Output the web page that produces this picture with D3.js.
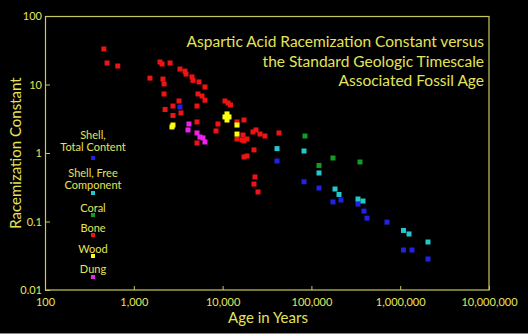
<!DOCTYPE html>
<html><head><meta charset="utf-8">
<script src="https://cdn.jsdelivr.net/npm/d3@7"></script>
<style>html,body{margin:0;padding:0;background:#000;}svg{display:block;}</style>
</head><body>
<script>
// Data: [age in years, racemization constant]
const bone = [[460,33],[500,20.6],[660,18.6],[1520,12.4],[1970,21.3],[2080,19.9],[2560,20.6],[3310,16.8],[3770,15.7],[3870,14.2],[4520,12.9],[4640,11.5],[5420,10.9],[6330,9.2],[2130,12.0],[2190,10.2],[2190,7.27],[5280,7.27],[5860,6.79],[6330,5.9],[3230,5.74],[5150,4.85],[2760,4.85],[2250,4.32],[3400,3.84],[2760,3.53],[5150,2.84],[8870,2.65],[8430,2.10],[5150,1.40],[10640,5.74],[11500,5.37],[12280,5.02],[14520,2.84],[17410,3.03],[14520,1.60],[16970,1.83],[17410,1.50],[18830,1.60],[16530,1.55],[21980,2.03],[23760,2.17],[26380,1.89],[30000,1.77],[43170,1.96],[22560,1.11],[17410,0.875],[18830,0.904],[23150,0.447],[22560,0.352],[25040,0.270]];
const wood = [[2690,2.40],[2760,2.56],[10640,3.36],[11800,3.36],[11210,3.72],[11210,3.03],[14520,2.56],[14520,1.89]];
const dung = [[4180,2.65],[4080,2.17],[5150,1.96],[5560,1.71],[6010,1.66],[6330,1.45]];
const coral = [[84700,1.77],[121800,0.658],[175000,0.845],[352500,0.739]];
const shellFree = [[41000,1.16],[82550,1.07],[121800,0.511],[184500,0.298],[204600,0.248],[334700,0.213],[381000,0.199],[1089000,0.074],[1256000,0.0658],[2055000,0.0502]];
const shellTotal = [[3310,4.69],[41000,0.764],[82550,0.38],[121800,0.308],[175000,0.193],[215400,0.206],[334700,0.180],[391000,0.142],[422800,0.112],[710000,0.098],[1089000,0.0384],[1358000,0.0384],[2055000,0.0284]];
const xTicks = [100,1000,10000,100000,1000000,10000000];
const yTicks = [0.01,0.1,1,10,100];
const legendLabels = [["Shell,","Total Content"],["Shell, Free","Component"],["Coral"],["Bone"],["Wood"],["Dung"]];
const titleLines = ["Aspartic Acid Racemization Constant versus","the Standard Geologic Timescale","Associated Fossil Age"];

const W=528,H=334;
const txt="#e4e45a", axc="#c8c860";
const font="Lato, 'Open Sans', sans-serif";
const svg=d3.select("body").append("svg").attr("width",W).attr("height",H);
svg.append("rect").attr("width",W).attr("height",H).attr("fill","#000");
svg.append("line").attr("x1",0).attr("x2",W).attr("y1",333.5).attr("y2",333.5).attr("stroke","#888");

const x=d3.scaleLog().domain([100,1e7]).range([45,489]);
const y=d3.scaleLog().domain([0.01,100]).range([290,16]);

const xa=svg.append("g").attr("transform","translate(0,290)")
 .call(d3.axisBottom(x).tickValues(xTicks).tickFormat(d3.format(",")).tickSize(-4).tickPadding(8));
const ya=svg.append("g").attr("transform","translate(45,0)")
 .call(d3.axisLeft(y).tickValues(yTicks).tickFormat(d=>String(d)).tickSize(-5).tickPadding(3));
[xa,ya].forEach(g=>{g.select(".domain").remove();g.selectAll("line").attr("stroke",axc);
 g.selectAll("text").attr("fill",txt).style("font-family",font).style("font-size","11px");});
svg.append("rect").attr("x",45.5).attr("y",16.5).attr("width",443.5).attr("height",273.5)
 .attr("fill","none").attr("stroke",axc).attr("stroke-width",1.2);

const series=[
 {d:shellTotal,c:"#2222e6"},{d:shellFree,c:"#22c8cc"},{d:coral,c:"#159a25"},
 {d:bone,c:"#ee1414"},{d:dung,c:"#ee22ee"},{d:wood,c:"#ffff10"}];
const s=5;
series.forEach(se=>{
 svg.append("g").selectAll("rect").data(se.d).join("rect")
  .attr("x",d=>x(d[0])-s/2).attr("y",d=>y(d[1])-s/2).attr("width",s).attr("height",s).attr("fill",se.c);
});

// legend
const legOrder=[{c:"#2222e6",ty:[135,147],my:158},{c:"#22c8cc",ty:[173,185],my:193},{c:"#159a25",ty:[208],my:215},
 {c:"#ee1414",ty:[228],my:235},{c:"#ffff10",ty:[249],my:256},{c:"#ee22ee",ty:[269],my:277}];
legOrder.forEach((l,i)=>{
 legendLabels[i].forEach((t,j)=>{
  svg.append("text").attr("x",93).attr("y",l.ty[j]+4).attr("text-anchor","middle")
   .attr("fill",txt).style("font-family",font).style("font-size","11px").text(t);
 });
 svg.append("rect").attr("x",91).attr("y",l.my-2).attr("width",4).attr("height",4).attr("fill",l.c);
});

// title
titleLines.forEach((t,i)=>{
 svg.append("text").attr("x",484).attr("y",47+i*19.5).attr("text-anchor","end")
  .attr("fill",txt).style("font-family",font).style("font-size","15.5px").text(t);
});
svg.append("text").attr("x",268).attr("y",323).attr("text-anchor","middle")
 .attr("fill",txt).style("font-family",font).style("font-size","15px").text("Age in Years");
svg.append("text").attr("transform","translate(21,153) rotate(-90)").attr("text-anchor","middle")
 .attr("fill",txt).style("font-family",font).style("font-size","15px").text("Racemization Constant");
</script>
</body></html>
